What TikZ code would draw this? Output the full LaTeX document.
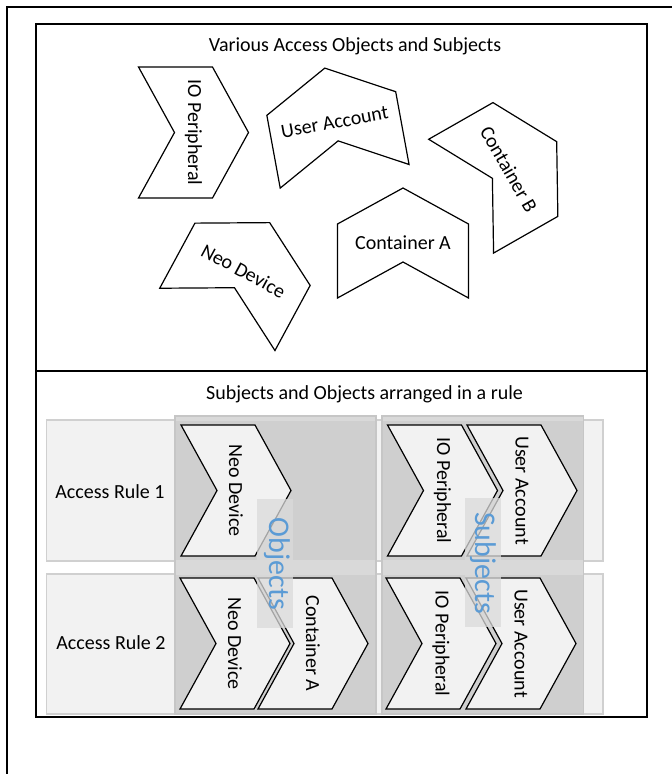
\documentclass[tikz,border=0pt]{standalone}
\usepackage{fontspec}
\setmainfont{Carlito}
\definecolor{rowfill}{HTML}{F2F2F2}
\definecolor{rowborder}{HTML}{D0D0D0}
\definecolor{colband}{HTML}{D9D9D9}
\definecolor{coldark}{HTML}{CFCFCF}
\definecolor{colborder}{HTML}{C6C6C6}
\definecolor{chevfill}{HTML}{F2F2F2}
\definecolor{lblblue}{HTML}{5B9BD5}
\definecolor{lblbg}{HTML}{DADADA}
\newcommand\mychev[6]{%
  \begin{scope}[shift={(#2,#3)},rotate=#4]
    \path[chevline,fill=#6] (-55,65.5) -- (19,65.5) -- (55,0) -- (19,-65.5) -- (-55,-65.5) -- (-19,0) -- cycle;
  \end{scope}
  \node[chevtext,rotate={#4-90}] (#1) at (#2,#3) {#5};
}
\begin{document}
\begin{tikzpicture}[x=1pt,y=-1pt,
  frameline/.style={draw=black,line width=2pt},
  chevline/.style={draw=black,line width=1.2pt,line join=miter},
  chevtext/.style={font=\fontsize{20}{24}\selectfont,inner sep=0pt},
  titletext/.style={font=\fontsize{20}{24}\selectfont,inner sep=0pt},
  rowbox/.style={fill=rowfill,draw=rowborder,line width=1.5pt},
  colbox/.style={fill=colband,draw=colborder,line width=1.5pt},
  lblbox/.style={fill=lblbg,fill opacity=0.75,draw=none,minimum width=36pt,minimum height=129pt,inner sep=0pt},
  bigblue/.style={font=\fontsize{30}{36}\selectfont,text=lblblue,inner sep=0pt}]
\useasboundingbox (0,0) rectangle (672,774);
\fill[white] (0,0) rectangle (672,774);

% outer frame (partially visible)
\draw[frameline] (6.5,774) -- (6.5,7.3) -- (672,7.3);

% ---------- top section ----------
\node[titletext] (title1) at (355,46.7) {Various Access Objects and Subjects};
\mychev{io}{193.5}{132.5}{0}{IO Peripheral}{white}
\mychev{ua}{334.7}{122.2}{100.4}{User Account}{white}
\mychev{cb}{508.9}{168.9}{29.7}{Container B}{white}
\mychev{ca}{403}{243}{90}{Container A}{white}
\mychev{nd}{243.5}{271}{61.6}{Neo Device}{white}

% ---------- bottom section ----------
\node[titletext] (title2) at (364.5,394) {Subjects and Objects arranged in a rule};

% rows
\path[rowbox] (46.7,420) rectangle (603,561);
\path[rowbox] (46.7,574) rectangle (603,714);
% columns
\path[colbox] (175,416) rectangle (376,714);
\path[colbox] (382,416) rectangle (583.5,714);
\fill[coldark] (176,421) rectangle (375,560);
\fill[coldark] (176,575) rectangle (375,713);
\fill[coldark] (383,421) rectangle (582.5,560);
\fill[coldark] (383,575) rectangle (582.5,713);

\node[titletext] (rule1) at (110,491.7) {Access Rule 1};
\node[titletext] (rule2) at (111,643) {Access Rule 2};

% rule 1
\mychev{nd1}{236}{490.5}{0}{Neo Device}{chevfill}
\mychev{io1}{442.5}{490.5}{0}{IO Peripheral}{chevfill}
\mychev{ua1}{522}{490.5}{0}{User Account}{chevfill}
% rule 2
\mychev{nd2}{235}{643.5}{0}{Neo Device}{chevfill}
\mychev{ca2}{313}{643.5}{0}{Container A}{chevfill}
\mychev{io2}{441}{643.5}{0}{IO Peripheral}{chevfill}
\mychev{ua2}{521}{643.5}{0}{User Account}{chevfill}

% group labels
\node[lblbox] (objbox) at (275,563.5) {};
\node[lblbox] (subbox) at (482.5,562.5) {};
\node[bigblue,rotate=-90] (objlbl) at (277,564) {Objects};
\node[bigblue,rotate=-90] (sublbl) at (483,563) {Subjects};

% inner frame
\draw[frameline] (36,24) rectangle (647,716.5);
\draw[frameline] (36,370.7) -- (647,370.7);
\end{tikzpicture}
\end{document}
